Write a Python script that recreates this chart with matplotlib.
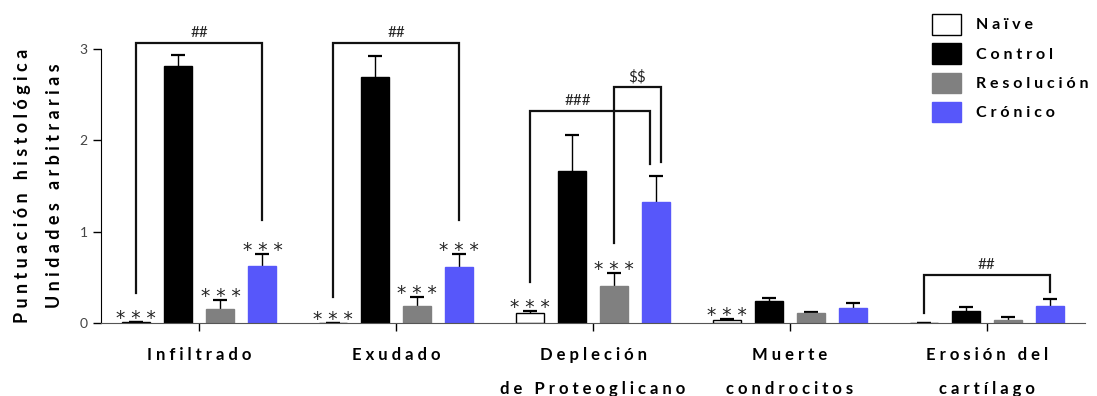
import numpy as np
import matplotlib
matplotlib.use("Agg")
import matplotlib.pyplot as plt

plt.rcParams['font.family'] = ['Lato', 'DejaVu Sans']
plt.rcParams['text.parse_math'] = False

# Data (arbitrary units)
categories = ["Infiltrado", "Exudado", "Depleción\nde Proteoglicano",
              "Muerte\ncondrocitos", "Erosión del\ncartílago"]
groups = ["Naïve", "Control", "Resolución", "Crónico"]
colors = ["white", "black", "#808080", "#5757fa"]

naive = [0.01, 0.005, 0.106, 0.033, 0.0]
naive_err = [0.0, 0.0, 0.025, 0.011, 0.0]
control = [2.81, 2.69, 1.67, 0.24, 0.13]
control_err = [0.13, 0.23, 0.39, 0.036, 0.048]
resolucion = [0.155, 0.186, 0.405, 0.106, 0.033]
resolucion_err = [0.10, 0.10, 0.14, 0.018, 0.036]
cronico = [0.624, 0.613, 1.325, 0.164, 0.186]
cronico_err = [0.13, 0.146, 0.29, 0.058, 0.08]

means = [naive, control, resolucion, cronico]
errs = [naive_err, control_err, resolucion_err, cronico_err]

# "* * *" marks: (category, group)
stars = [(0, 0), (0, 2), (0, 3), (1, 0), (1, 2), (1, 3), (2, 0), (2, 2), (3, 0)]
# brackets: (category, group a, group b, top, foot a, foot b, label)
brackets = [
    (0, 0, 3, 3.067, 0.33, 1.13, "##"),
    (1, 0, 3, 3.067, 0.29, 1.13, "##"),
    (2, 0, 3, 2.32, 0.45, 1.74, "###"),
    (2, 2, 3, 2.58, 0.88, 1.76, "$$"),
    (4, 0, 3, 0.53, 0.11, 0.34, "##"),
]


def spaced(s, gap=" "):
    # imitate the wide letter spacing of the original
    return "\n".join(gap.join(list(line)) for line in s.split("\n"))


fig = plt.figure(figsize=(10.97, 3.96), dpi=100)
ax = fig.add_axes([101 / 1097, 73 / 396, 984 / 1097, 323 / 396])

x = np.arange(len(categories))
step = 0.2135
width = 0.142

for i in range(len(groups)):
    pos = x + (i - 1.5) * step
    ax.bar(pos, means[i], width, color=colors[i],
           edgecolor="black" if i == 0 else colors[i], linewidth=1.0,
           label=spaced(groups[i]), zorder=2)
    # symmetric bars drawn behind the columns, so only the upper half shows
    ax.errorbar(pos, means[i], yerr=errs[i], fmt="none", ecolor="black",
                elinewidth=1.0, capsize=4.7, capthick=1.6, zorder=1)

# asterisks
for c, g in stars:
    xp = x[c] + (g - 1.5) * step
    yp = means[g][c] + errs[g][c]
    ax.annotate("* * *", (xp, yp), xytext=(0, -1.5), textcoords="offset points",
                ha="center", va="baseline", fontsize=13.5, color="#222222",
                family="DejaVu Sans")

# significance brackets
nudge = {"###": -0.03, "$$": 0.025}
for c, ga, gb, top, ya, yb, lab in brackets:
    xa = x[c] + (ga - 1.5) * step
    xb = x[c] + (gb - 1.5) * step + nudge.get(lab, 0)
    ax.plot([xa, xa, xb, xb], [ya, top, top, yb], color="#111111",
            lw=1.6, solid_joinstyle="miter", zorder=3)
    tx = (xa + xb) / 2 + (-0.06 if lab == "###" else 0)
    ax.annotate(lab, (tx, top), xytext=(0, 2), textcoords="offset points",
                ha="center", va="bottom", fontsize=11, color="#222222")

ax.set_xlim(-0.5, 4.5)
ax.set_ylim(0, 323 / 91.3)
ax.set_yticks([0, 1, 2, 3])
ax.spines["top"].set_visible(False)
ax.spines["right"].set_visible(False)
ax.spines["left"].set_bounds(0, 3)
ax.spines["bottom"].set_color("#555555")
ax.spines["bottom"].set_zorder(4)
ax.tick_params(axis="y", direction="out", length=6, width=1.0,
               labelsize=10, labelcolor="#444444")
ax.tick_params(axis="x", direction="out", length=6, width=1.0, pad=11)
ax.set_xticks(x)
ax.set_xticklabels([spaced(c) for c in categories], fontsize=12,
                   fontweight="bold", linespacing=2.45)

fig.text(23 / 1097, 1 - 186 / 396, spaced("Puntuación histológica"),
         rotation=90, ha="center", va="center", fontsize=13, fontweight="bold")
fig.text(55 / 1097, 1 - 186 / 396, spaced("Unidades arbitrarias"),
         rotation=90, ha="center", va="center", fontsize=13, fontweight="bold")

leg = ax.legend(loc="upper left", bbox_to_anchor=(932 / 1097, 1 - 14 / 396),
                bbox_transform=fig.transFigure, frameon=False, borderpad=0,
                borderaxespad=0, handlelength=1.8, handleheight=1.6,
                labelspacing=0.55, handletextpad=0.95,
                prop={"weight": "bold", "size": 11.5})

fig.savefig("out.png", dpi=100)
